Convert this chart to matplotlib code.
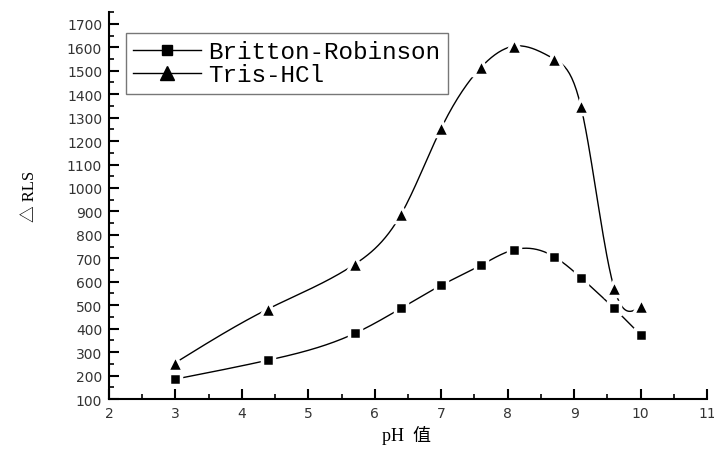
import numpy as np
import matplotlib
matplotlib.use("Agg")
import matplotlib.pyplot as plt
from matplotlib.ticker import MultipleLocator

# data
ph = [3, 4.4, 5.7, 6.4, 7, 7.6, 8.1, 8.7, 9.1, 9.6, 10]
britton = [185, 266, 380, 488, 585, 671, 737, 707, 618, 487, 374]
tris = [255, 485, 675, 890, 1255, 1515, 1605, 1550, 1350, 575, 495]
labels = ["Britton-Robinson", "Tris-HCl"]


def natural_spline(x, y, n=400):
    # plain natural cubic spline, like Origin's "spline" connect
    x = np.asarray(x, float)
    y = np.asarray(y, float)
    k = len(x)
    h = np.diff(x)
    A = np.zeros((k, k))
    b = np.zeros(k)
    A[0, 0] = A[-1, -1] = 1
    for i in range(1, k - 1):
        A[i, i - 1] = h[i - 1]
        A[i, i] = 2 * (h[i - 1] + h[i])
        A[i, i + 1] = h[i]
        b[i] = 6 * ((y[i + 1] - y[i]) / h[i] - (y[i] - y[i - 1]) / h[i - 1])
    m = np.linalg.solve(A, b)
    xs = np.linspace(x[0], x[-1], n)
    idx = np.clip(np.searchsorted(x, xs) - 1, 0, k - 2)
    x0, x1 = x[idx], x[idx + 1]
    hh = x1 - x0
    t0, t1 = x1 - xs, xs - x0
    ys = (m[idx] * t0**3 + m[idx + 1] * t1**3) / (6 * hh) \
        + (y[idx] / hh - m[idx] * hh / 6) * t0 \
        + (y[idx + 1] / hh - m[idx + 1] * hh / 6) * t1
    return xs, ys


fig = plt.figure(figsize=(7.14, 4.52), dpi=100)
ax = fig.add_axes([0.1527, 0.115, 0.8375, 0.856])

for vals, mk, ms, lab in [(britton, "s", 9, labels[0]), (tris, "^", 12, labels[1])]:
    xs, ys = natural_spline(ph, vals)
    ax.plot(xs, ys, color="black", lw=1.0, zorder=2)
    # white edge leaves the small gap round each marker
    ax.plot(ph, vals, ls="none", marker=mk, ms=ms, color="black",
            mec="white", mew=2.5, zorder=3)
    ax.plot([], [], color="black", lw=1.0, marker=mk, ms=ms - 2, label=lab)

ax.set_xlim(2, 11)
ax.set_ylim(100, 1750)
ax.set_yticks(np.arange(100, 1701, 100))
ax.xaxis.set_major_locator(MultipleLocator(1))
ax.xaxis.set_minor_locator(MultipleLocator(0.5))
ax.yaxis.set_minor_locator(MultipleLocator(50))

for s in ["top", "right"]:
    ax.spines[s].set_visible(False)
for s in ["left", "bottom"]:
    ax.spines[s].set_linewidth(1.5)

ax.tick_params(which="major", direction="in", length=7, width=1.5,
               labelsize=10, labelcolor="#333333", pad=5)
ax.tick_params(which="minor", direction="in", length=3.5, width=1.2)

ax.set_xlabel("pH  值", family=["Liberation Serif", "Noto Sans CJK SC"], fontsize=13)
ax.set_ylabel("△ RLS", family=["Liberation Serif", "Noto Sans CJK SC", "DejaVu Sans"], fontsize=12)
ax.xaxis.set_label_coords(0.497, -0.068)
ax.yaxis.set_label_coords(-0.118, 0.527)

leg = ax.legend(loc="upper left", bbox_to_anchor=(0.028, 0.946), borderaxespad=0,
                fancybox=False, edgecolor="#555555", handlelength=2.8,
                handletextpad=0.3, labelspacing=0.0, borderpad=0.3,
                prop={"family": "Liberation Mono", "size": 17.5})
leg.get_frame().set_linewidth(1.0)

fig.savefig("out.png", dpi=100)
